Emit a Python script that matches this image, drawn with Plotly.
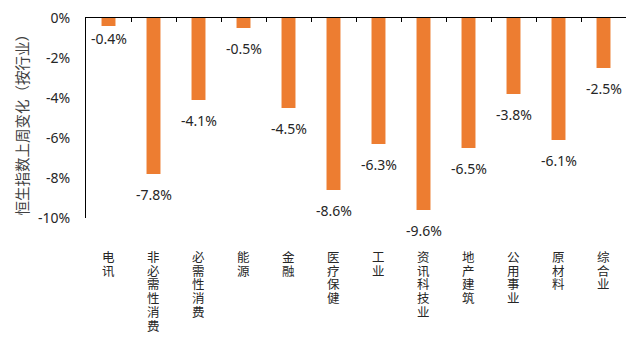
import plotly.graph_objects as go

# Weekly change of the Hang Seng indexes by sector (%)
sectors = ["电讯", "非必需性消费", "必需性消费", "能源", "金融", "医疗保健",
           "工业", "资讯科技业", "地产建筑", "公用事业", "原材料", "综合业"]
changes = [-0.4, -7.8, -4.1, -0.5, -4.5, -8.6, -6.3, -9.6, -6.5, -3.8, -6.1, -2.5]

y_tickvals = [0, -2, -4, -6, -8, -10]
y_ticktext = ["0%", "-2%", "-4%", "-6%", "-8%", "-10%"]

axis_title = "恒生指数上周变化（按行业）"

BAR_COLOR = "#ED7D31"
TEXT_COLOR = "#262626"
FONT = "Noto Sans, Noto Sans CJK SC, sans-serif"
CJK_FONT = "Noto Sans CJK SC, sans-serif"

fig = go.Figure()
fig.add_trace(go.Bar(
    x=sectors,
    y=changes,
    width=0.31,
    marker=dict(color=BAR_COLOR, line=dict(width=0)),
    hoverinfo="skip",
))

annotations = []

# value labels under each bar end
for i, (name, val) in enumerate(zip(sectors, changes)):
    shift = -12 if i == 0 else -20
    annotations.append(dict(
        x=name, y=val, xref="x", yref="y",
        text=f"{val:.1f}%", showarrow=False,
        yanchor="middle", xanchor="center", yshift=shift,
        font=dict(size=14, color=TEXT_COLOR, family=FONT),
    ))

# vertical sector names below the plot, one character per row
PITCH = 13.7
for name in sectors:
    for j, ch in enumerate(name):
        annotations.append(dict(
            x=name, y=0, xref="x", yref="paper",
            text=ch, showarrow=False, height=PITCH, borderpad=0,
            yanchor="middle", xanchor="center", yshift=-39 - PITCH * j,
            font=dict(size=12.5, color=TEXT_COLOR, family=CJK_FONT),
        ))

# rotated value-axis title
annotations.append(dict(
    x=0, y=0.483, xref="paper", yref="paper",
    text=axis_title, showarrow=False, textangle=-90,
    xanchor="center", yanchor="middle", xshift=-65,
    font=dict(size=14.5, color="#404040", family=CJK_FONT),
))

fig.update_layout(
    width=634, height=339,
    margin=dict(l=86, r=8, t=14, b=121),
    paper_bgcolor="white", plot_bgcolor="white",
    showlegend=False,
    font=dict(family=FONT, color=TEXT_COLOR, size=14),
    annotations=annotations,
    xaxis=dict(
        type="category",
        range=[-0.5, len(sectors) - 0.5],
        side="top",
        showline=True, linecolor="black", linewidth=1,
        ticks="inside", tickson="boundaries", ticklen=4,
        tickcolor="black", tickwidth=1,
        showticklabels=False, showgrid=False, zeroline=False,
    ),
    yaxis=dict(
        range=[-10, 0],
        tickvals=y_tickvals, ticktext=y_ticktext,
        showline=True, linecolor="black", linewidth=1,
        ticks="", ticklabelstandoff=12,
        tickfont=dict(size=14, color=TEXT_COLOR, family=FONT),
        showgrid=False, zeroline=False,
    ),
)

fig.write_html("out.html")
